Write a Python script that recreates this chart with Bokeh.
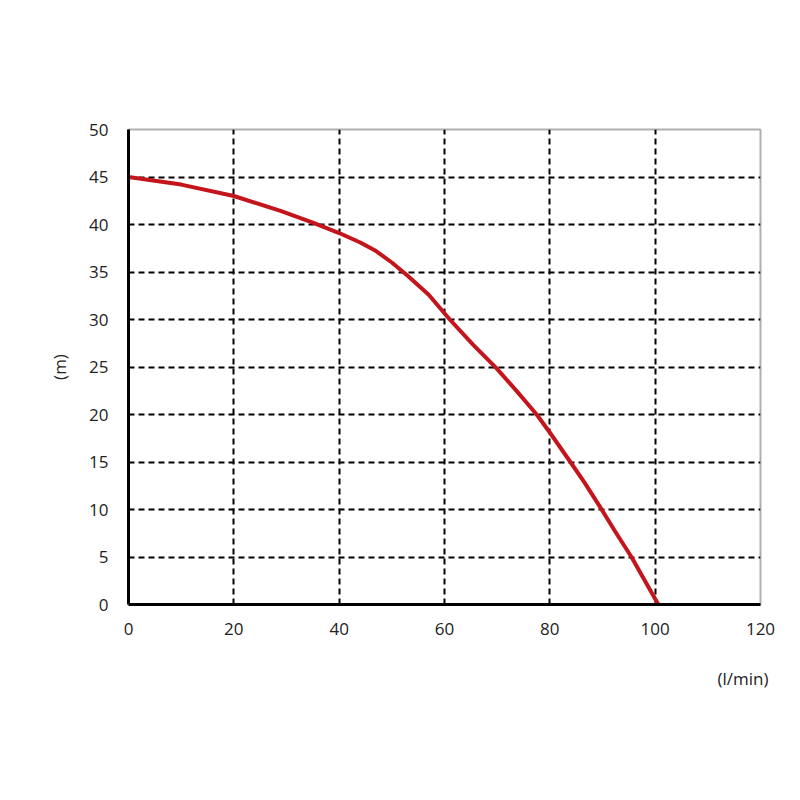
from bokeh.plotting import figure
from bokeh.models import Range1d, FixedTicker, Title
from bokeh.embed import file_html
from bokeh.resources import INLINE

flow = [0, 10, 20, 29, 35, 40, 44, 47, 50, 53, 57, 61, 65.5, 69.8, 73.8, 77.5, 80, 83.9, 86.5, 89.5, 92.5, 95.5, 100.6]
head = [45, 44.2, 43.0, 41.4, 40.2, 39.1, 38.1, 37.2, 36.0, 34.6, 32.6, 30.0, 27.3, 24.9, 22.4, 20.0, 18.1, 15.0, 12.9, 10.3, 7.6, 5.0, 0]
x_ticks = [0, 20, 40, 60, 80, 100, 120]
y_ticks = [0, 5, 10, 15, 20, 25, 30, 35, 40, 45, 50]

FONT = "Open Sans"
TXT = "#222222"

p = figure(width=784, height=784, output_backend="svg", toolbar_location=None,
           x_range=Range1d(0, 120), y_range=Range1d(0, 50),
           min_border_left=128, min_border_right=24, min_border_top=129, min_border_bottom=180)
p.background_fill_color = "white"
p.border_fill_color = "white"
p.outline_line_color = "#b0b0b0"
p.outline_line_width = 2

p.xgrid.ticker = FixedTicker(ticks=[20, 40, 60, 80, 100])
p.ygrid.ticker = FixedTicker(ticks=[5, 10, 15, 20, 25, 30, 35, 40, 45])
for g in (p.xgrid, p.ygrid):
    g.grid_line_color = "black"
    g.grid_line_width = 2
    g.grid_line_dash = "6 4"

p.line(flow, head, line_color="#c4141c", line_width=4, line_join="round", line_cap="round")

for ax, ticks in ((p.xaxis, x_ticks), (p.yaxis, y_ticks)):
    ax.ticker = FixedTicker(ticks=ticks)
    ax.axis_line_color = "black"
    ax.axis_line_width = 3
    ax.major_tick_line_color = None
    ax.minor_tick_line_color = None
    ax.major_label_text_font = FONT
    ax.major_label_text_font_size = "17px"
    ax.major_label_text_color = TXT
    ax.axis_label_text_font = FONT
    ax.axis_label_text_font_size = "17px"
    ax.axis_label_text_font_style = "normal"
    ax.axis_label_text_color = TXT

p.xaxis.major_label_standoff = 12
p.yaxis.major_label_standoff = 14
p.yaxis.axis_label = "(m)"
p.yaxis.axis_label_standoff = 15

t = Title(text="(l/min)", align="right", text_font=FONT, text_font_size="17px",
          text_font_style="normal", text_color=TXT, standoff=55, offset=-8)
p.add_layout(t, "below")

open("out.html", "w").write(file_html(p, INLINE))
